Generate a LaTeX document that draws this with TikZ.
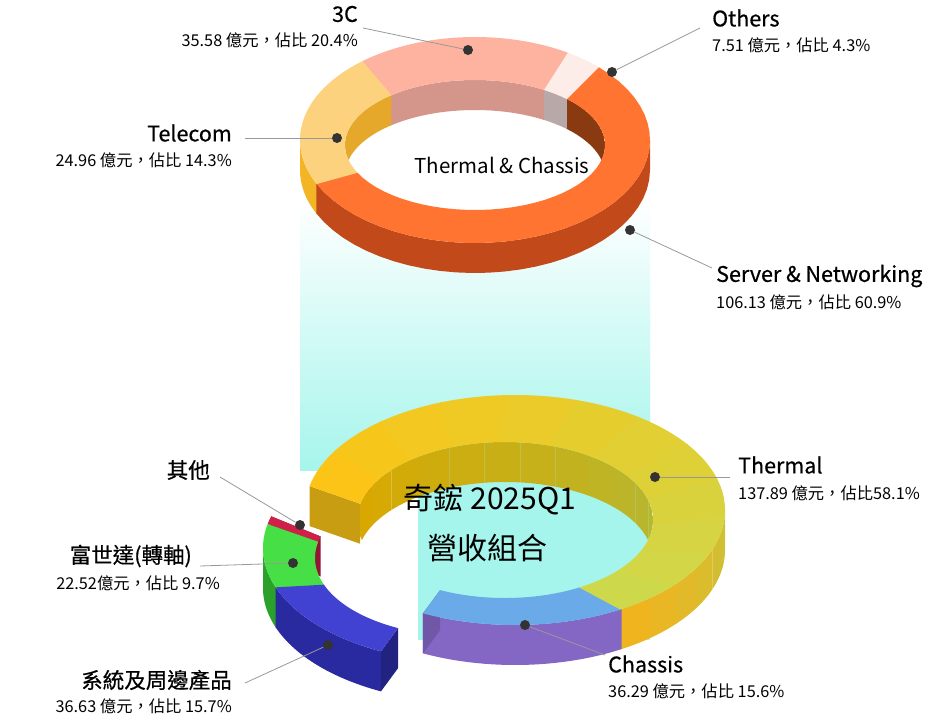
\documentclass[tikz,border=0pt]{standalone}
\usepackage{fontspec}
\setmainfont{Noto Sans CJK TC}
\definecolor{srvT}{HTML}{FF7430}\definecolor{srvS}{HTML}{C24A1A}\definecolor{srvW}{HTML}{8A3A10}
\definecolor{telT}{HTML}{FDD27E}\definecolor{telS}{HTML}{F3B425}\definecolor{telW}{HTML}{E5A82A}
\definecolor{tcT}{HTML}{FDB3A0}\definecolor{tcW}{HTML}{D4968A}
\definecolor{othT}{HTML}{FDEDE8}\definecolor{othW}{HTML}{B8A8A8}
\definecolor{thA}{HTML}{FBC416}\definecolor{thB}{HTML}{CDD84C}
\definecolor{thSA}{HTML}{F0B41E}\definecolor{thSB}{HTML}{C8C23A}
\definecolor{thWA}{HTML}{D9A800}\definecolor{thWB}{HTML}{B5B832}
\definecolor{chT}{HTML}{6AAAE8}\definecolor{chS}{HTML}{8466C4}
\definecolor{grT}{HTML}{46E046}\definecolor{grS}{HTML}{2BA02B}
\definecolor{blT}{HTML}{4242D2}\definecolor{blS}{HTML}{2A2AA0}
\definecolor{rdT}{HTML}{D0204A}
\definecolor{aqua}{HTML}{A6F5EC}
\newcommand\topseg[3]{\fill[#1] plot[domain=#2:#3,samples=40] ({\cx+\rxo*cos(\x)},{\cy-\ryo*sin(\x)}) -- plot[domain=#3:#2,samples=40] ({\icx+\rxi*cos(\x)},{\icy-\ryi*sin(\x)}) -- cycle;}
\newcommand\sideseg[3]{\fill[#1] plot[domain=#2:#3,samples=30] ({\cx+\rxo*cos(\x)},{\cy-\ryo*sin(\x)}) -- plot[domain=#3:#2,samples=30] ({\cx+\rxo*cos(\x)},{\cy+\hh-\ryo*sin(\x)}) -- cycle;}
\newcommand\wallseg[3]{\fill[#1] plot[domain=#2:#3,samples=30] ({\icx+\rxi*cos(\x)},{\icy-\ryi*sin(\x)}) -- plot[domain=#3:#2,samples=30] ({\icx+\rxi*cos(\x)},{\icy+\hh-\ryi*sin(\x)}) -- cycle;}
\newcommand\cutface[2]{\fill[#1] ({\cx+\rxo*cos(#2)},{\cy-\ryo*sin(#2)}) -- ({\icx+\rxi*cos(#2)},{\icy-\ryi*sin(#2)}) -- ++(0,\hh) -- ({\cx+\rxo*cos(#2)},{\cy+\hh-\ryo*sin(#2)}) -- cycle;}
\tikzset{
  dot/.style={circle,fill=black!80,inner sep=0pt,minimum size=10pt},
  lead/.style={draw=black!40,line width=0.8pt},
  head/.style={font=\fontsize{21.5}{24}\selectfont\addfontfeature{FakeBold=0.6},inner sep=0pt},
  val/.style={font=\fontsize{16.3}{19}\selectfont,inner sep=0pt},
}
\begin{document}
\begin{tikzpicture}[x=1pt,y=-1pt]
\useasboundingbox (0,0) rectangle (950,718);
% aqua column
\shade[top color=white,bottom color=aqua] (300,200) rectangle (650,470);
\shade[top color=white,bottom color=aqua] (418,200) rectangle (650,470);
\fill[aqua] (418,470) rectangle (650,640);
% ===== bottom ring =====
\begin{scope}
\def\cx{515}\def\cy{510}\def\rxo{210}\def\ryo{115}
\def\icx{505}\def\icy{520}\def\rxi{148}\def\ryi{78}\def\hh{40}
\begin{scope}
\clip (\icx,\icy) ellipse [x radius=\rxi,y radius=\ryi];
\foreach \i in {0,...,11}{
  \pgfmathsetmacro\aa{168-14*\i}\pgfmathsetmacro\bb{168-14*(\i+1)}
  \pgfmathsetmacro\p{100-\i*9}
  \wallseg{thWA!\p!thWB}{\aa}{\bb}}
\end{scope}
\foreach \i in {0,...,5}{
  \pgfmathsetmacro\aa{300+10*\i}\pgfmathsetmacro\bb{300+10*(\i+1)}
  \pgfmathsetmacro\p{100-\i*18}
  \sideseg{thSA!\p!thSB}{\aa}{\bb}}
\sideseg{chS}{244}{300.5}
\cutface{thA!80!black}{168}
\cutface{chS!85!black}{244}
\foreach \i in {0,...,11}{
  \pgfmathsetmacro\aa{168-19*\i}\pgfmathsetmacro\bb{168-19*(\i+1)-0.5}
  \pgfmathsetmacro\p{100-\i*9}
  \topseg{thA!\p!thB}{\aa}{\bb}}
\topseg{chT}{244}{300}
\coordinate (dTh) at (655,477);
\coordinate (dCh) at (525,625);
\end{scope}
% ===== pulled out piece =====
\begin{scope}[shift={(-42,38)}]
\def\cx{515}\def\cy{510}\def\rxo{210}\def\ryo{115}
\def\icx{505}\def\icy{520}\def\rxi{148}\def\ryi{78}\def\hh{40}
\sideseg{grS}{180}{200.5}
\sideseg{blS}{200}{244}
\cutface{rdT!70!black}{164}
\cutface{blS!80!black}{244}
\topseg{rdT}{164}{168}
\topseg{grT}{168}{200.5}
\topseg{blT}{200}{244}
\end{scope}
% ===== top ring =====
\begin{scope}
\def\cx{475}\def\cy{140}\def\rxo{175}\def\ryo{103}
\def\icx{475}\def\icy{145}\def\rxi{130}\def\ryi{65}\def\hh{30}
\fill[white] (\icx,\icy) ellipse [x radius=\rxi,y radius=\ryi];
\begin{scope}
\clip (\icx,\icy) ellipse [x radius=\rxi,y radius=\ryi];
\wallseg{srvW}{0}{45.5}
\wallseg{othW}{45}{58.3}
\wallseg{tcW}{58}{130.3}
\wallseg{telW}{130}{180}
\end{scope}
\sideseg{telS}{180}{205.5}
\sideseg{srvS}{205}{360}
\topseg{srvT}{205}{405}
\topseg{othT}{45}{58.3}
\topseg{tcT}{58}{130.3}
\topseg{telT}{130}{205.3}
\end{scope}
% ===== texts =====
\node[font=\fontsize{20.5}{23}\selectfont] (tc) at (502,165) {Thermal \& Chassis};
\node[font=\fontsize{30}{34}\selectfont] (c1) at (490,500) {奇鋐 2025Q1};
\node[font=\fontsize{30}{34}\selectfont] (c2) at (487,548) {營收組合};
% labels
\node[dot] (d3c) at (468,50) {};
\node[head,anchor=east] (l3c) at (358,14) {3C};
\node[val,anchor=east] (v3c) at (358,40) {35.58 億元，佔比 20.4\%};
\draw[lead] (363,28) -- (d3c);
\node[dot] (doth) at (612,72) {};
\node[head,anchor=west] (loth) at (712,18) {Others};
\node[val,anchor=west] (voth) at (712,45) {7.51 億元，佔比 4.3\%};
\draw[lead] (700,28) -- (doth);
\node[dot] (dtel) at (337,138) {};
\node[head,anchor=east] (ltel) at (232,133) {Telecom};
\node[val,anchor=east] (vtel) at (232,160) {24.96 億元，佔比 14.3\%};
\draw[lead] (245,138) -- (dtel);
\node[dot] (dsrv) at (630,230) {};
\node[head,anchor=west] (lsrv) at (716,276) {Server \& Networking};
\node[val,anchor=west] (vsrv) at (716,302) {106.13 億元，佔比 60.9\%};
\draw[lead] (712,268) -- (dsrv);
\node[dot] (dth) at (dTh) {};
\node[head,anchor=west] (lth) at (738,465) {Thermal};
\node[val,anchor=west] (vth) at (738,493) {137.89 億元，佔比58.1\%};
\draw[lead] (730,477) -- (dth);
\node[dot] (dch) at (dCh) {};
\node[head,anchor=west] (lch) at (608,664) {Chassis};
\node[val,anchor=west] (vch) at (608,691) {36.29 億元，佔比 15.6\%};
\draw[lead] (605,655) -- (dch);
\node[dot] (dqt) at (300,525) {};
\node[head,anchor=east] (lqt) at (210,470) {其他};
\draw[lead] (220,477) -- (dqt);
\node[dot] (dfs) at (293,563) {};
\node[head,anchor=east] (lfs) at (192,556) {富世達(轉軸)};
\node[val,anchor=east] (vfs) at (220,583) {22.52億元，佔比 9.7\%};
\draw[lead] (200,566) -- (dfs);
\node[dot] (dxt) at (328,645) {};
\node[head,anchor=east] (lxt) at (232,680) {系統及周邊產品};
\node[val,anchor=east] (vxt) at (232,706) {36.63 億元，佔比 15.7\%};
\draw[lead] (245,683) -- (dxt);
\end{tikzpicture}
\end{document}
